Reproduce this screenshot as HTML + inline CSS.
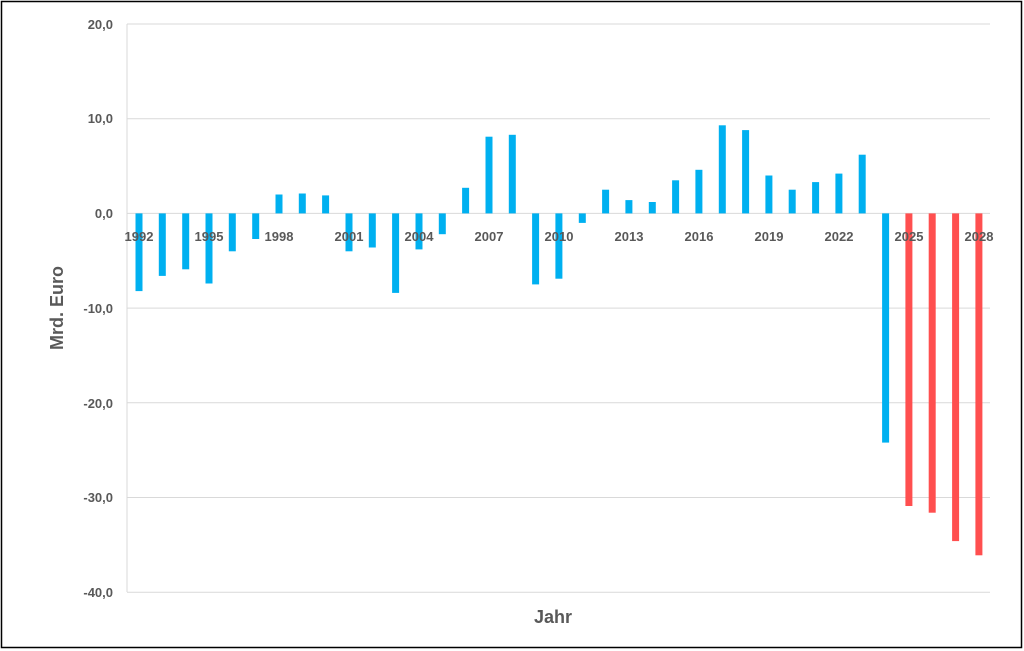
<!DOCTYPE html>
<html><head><meta charset="utf-8"><style>
html,body{margin:0;padding:0;background:#fff;}
svg{display:block;}
text{font-family:"Liberation Sans",sans-serif;font-weight:bold;fill:#595959;}
</style></head><body>
<svg width="1024" height="651" viewBox="0 0 1024 651">
<rect x="1.5" y="1.5" width="1020" height="646" fill="#fff" stroke="#000" stroke-width="1.5"/>
<g stroke="#d9d9d9" stroke-width="1">
<line x1="127" y1="24" x2="990" y2="24"/>
<line x1="127" y1="118.7" x2="990" y2="118.7"/>
<line x1="127" y1="213.4" x2="990" y2="213.4"/>
<line x1="127" y1="308.1" x2="990" y2="308.1"/>
<line x1="127" y1="402.8" x2="990" y2="402.8"/>
<line x1="127" y1="497.5" x2="990" y2="497.5"/>
<line x1="127" y1="592.2" x2="990" y2="592.2"/>
<line x1="127" y1="24" x2="127" y2="592"/>
</g>
<g font-size="13" text-anchor="end">
<text x="113" y="29">20,0</text>
<text x="113" y="123">10,0</text>
<text x="113" y="218">0,0</text>
<text x="113" y="313">-10,0</text>
<text x="113" y="408">-20,0</text>
<text x="113" y="502">-30,0</text>
<text x="113" y="597">-40,0</text>
</g>
<text x="63" y="308" font-size="18" text-anchor="middle" transform="rotate(-90 63 308)">Mrd. Euro</text>
<text x="553" y="623" font-size="18" text-anchor="middle">Jahr</text>
<g fill="#00b0f0">
<rect x="135.5" y="213.4" width="7" height="77.7"/>
<rect x="158.8" y="213.4" width="7" height="62.5"/>
<rect x="182.2" y="213.4" width="7" height="55.9"/>
<rect x="205.5" y="213.4" width="7" height="70.1"/>
<rect x="228.8" y="213.4" width="7" height="37.9"/>
<rect x="252.2" y="213.4" width="7" height="25.6"/>
<rect x="275.5" y="194.5" width="7" height="18.9"/>
<rect x="298.8" y="193.5" width="7" height="19.9"/>
<rect x="322.1" y="195.4" width="7" height="18.0"/>
<rect x="345.5" y="213.4" width="7" height="37.9"/>
<rect x="368.8" y="213.4" width="7" height="34.1"/>
<rect x="392.1" y="213.4" width="7" height="79.5"/>
<rect x="415.5" y="213.4" width="7" height="36.0"/>
<rect x="438.8" y="213.4" width="7" height="20.8"/>
<rect x="462.1" y="187.8" width="7" height="25.6"/>
<rect x="485.5" y="136.7" width="7" height="76.7"/>
<rect x="508.8" y="134.8" width="7" height="78.6"/>
<rect x="532.1" y="213.4" width="7" height="71.0"/>
<rect x="555.4" y="213.4" width="7" height="65.3"/>
<rect x="578.8" y="213.4" width="7" height="9.5"/>
<rect x="602.1" y="189.7" width="7" height="23.7"/>
<rect x="625.4" y="200.1" width="7" height="13.3"/>
<rect x="648.8" y="202.0" width="7" height="11.4"/>
<rect x="672.1" y="180.3" width="7" height="33.1"/>
<rect x="695.4" y="169.8" width="7" height="43.6"/>
<rect x="718.8" y="125.3" width="7" height="88.1"/>
<rect x="742.1" y="130.1" width="7" height="83.3"/>
<rect x="765.4" y="175.5" width="7" height="37.9"/>
<rect x="788.7" y="189.7" width="7" height="23.7"/>
<rect x="812.1" y="182.1" width="7" height="31.3"/>
<rect x="835.4" y="173.6" width="7" height="39.8"/>
<rect x="858.7" y="154.7" width="7" height="58.7"/>
<rect x="882.1" y="213.4" width="7" height="229.2"/>
</g>
<g fill="#ff4f4f">
<rect x="905.4" y="213.4" width="7" height="292.6"/>
<rect x="928.7" y="213.4" width="7" height="299.3"/>
<rect x="952.1" y="213.4" width="7" height="327.7"/>
<rect x="975.4" y="213.4" width="7" height="341.9"/>
</g>
<g font-size="13" text-anchor="middle">
<text x="139" y="241">1992</text>
<text x="209" y="241">1995</text>
<text x="279" y="241">1998</text>
<text x="349" y="241">2001</text>
<text x="419" y="241">2004</text>
<text x="489" y="241">2007</text>
<text x="559" y="241">2010</text>
<text x="629" y="241">2013</text>
<text x="699" y="241">2016</text>
<text x="769" y="241">2019</text>
<text x="839" y="241">2022</text>
<text x="909" y="241">2025</text>
<text x="979" y="241">2028</text>
</g>
</svg>
</body></html>
